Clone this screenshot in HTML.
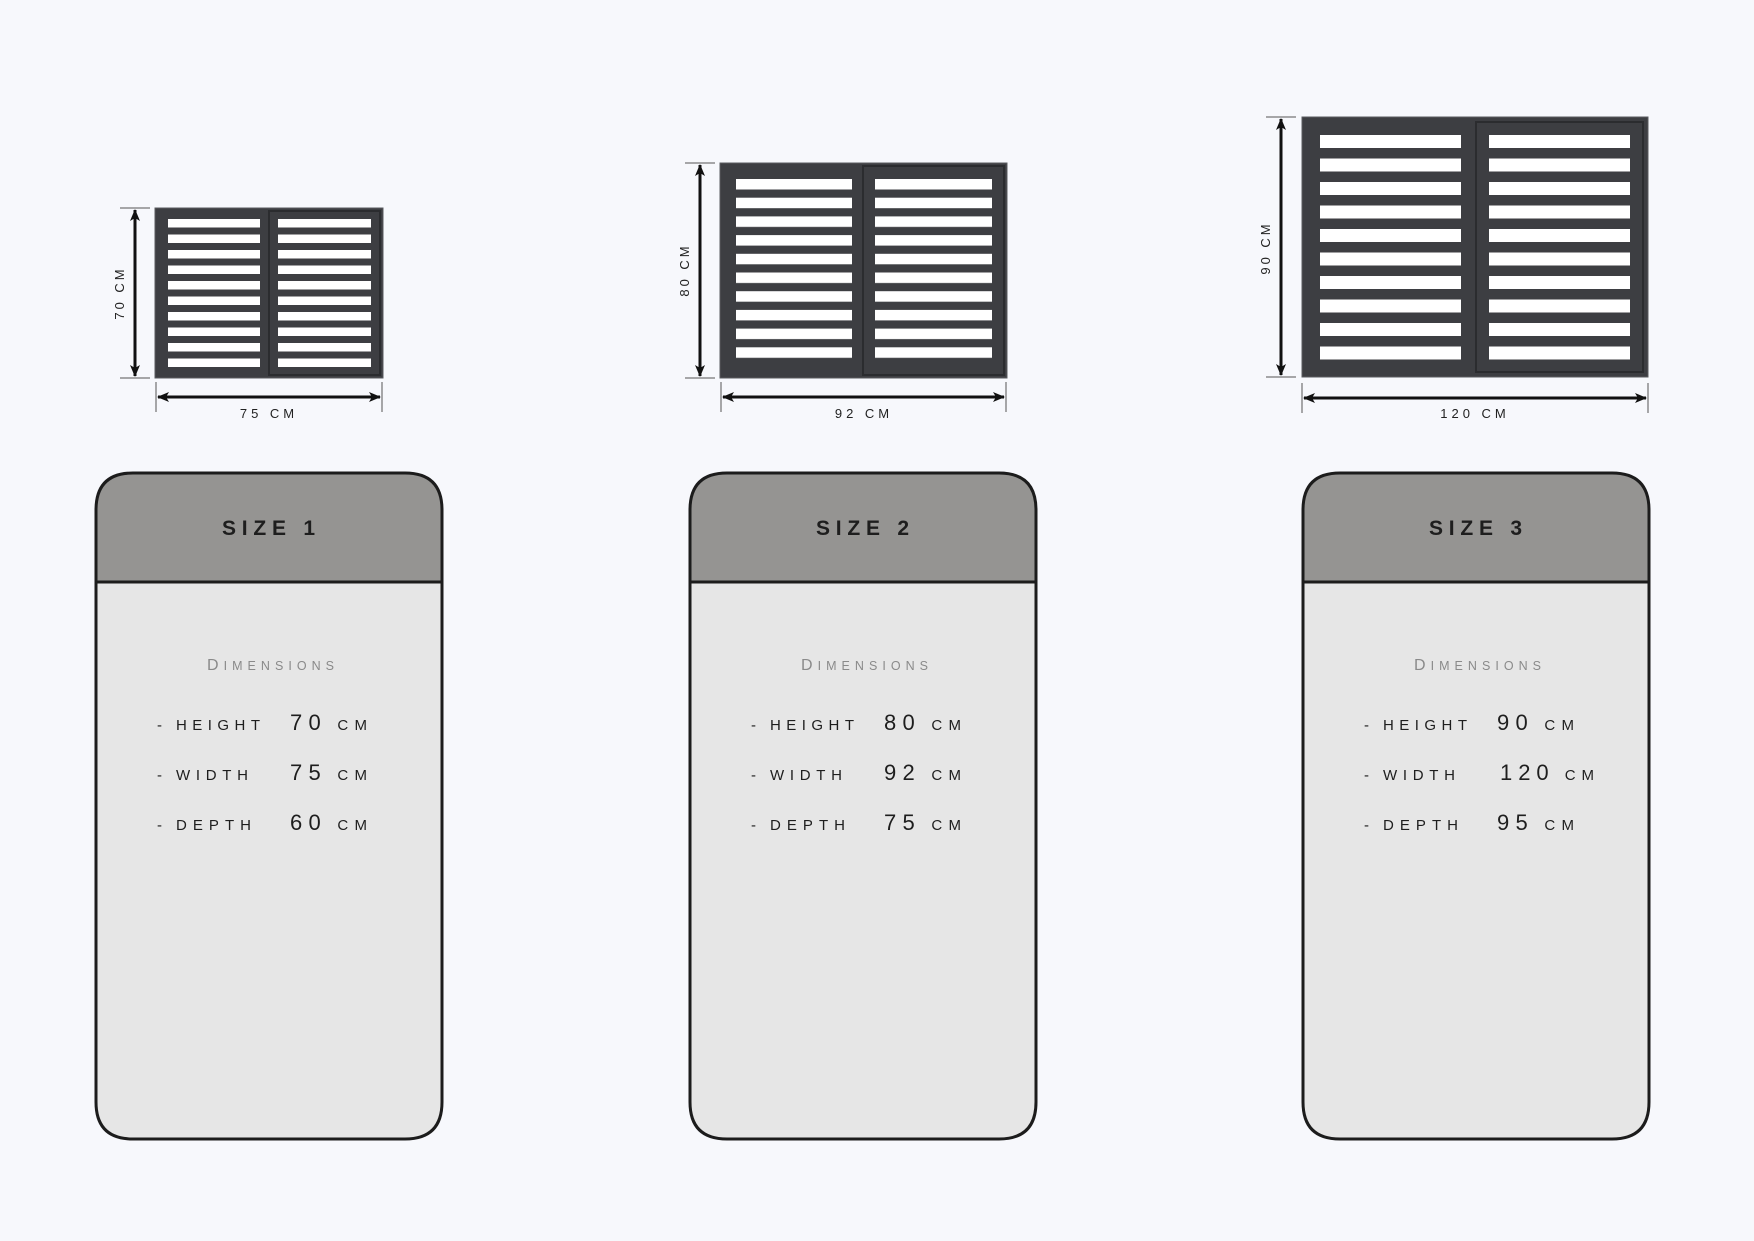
<!DOCTYPE html>
<html><head><meta charset="utf-8"><style>
html,body{margin:0;padding:0;background:#f7f8fc;}
svg{display:block;}
text{font-family:"Liberation Sans",sans-serif;}
</style></head><body>
<svg width="1754" height="1241" viewBox="0 0 1754 1241" xmlns="http://www.w3.org/2000/svg">
<defs>
<marker id="ah" viewBox="0 0 12 10" refX="11" refY="5" markerWidth="12" markerHeight="10" markerUnits="userSpaceOnUse" orient="auto-start-reverse">
<path d="M0,0 L12,5 L0,10 L3,5 Z" fill="#111"/></marker>
<pattern id="p1" patternUnits="userSpaceOnUse" x="0" y="219" width="10" height="15.5"><rect x="0" y="0" width="10" height="8.5" fill="#fff"/></pattern>
<pattern id="p2" patternUnits="userSpaceOnUse" x="0" y="179" width="10" height="18.7"><rect x="0" y="0" width="10" height="10.5" fill="#fff"/></pattern>
<pattern id="p3" patternUnits="userSpaceOnUse" x="0" y="135" width="10" height="23.5"><rect x="0" y="0" width="10" height="13" fill="#fff"/></pattern>
</defs>
<rect width="1754" height="1241" fill="#f7f8fc"/>

<rect x="155" y="208" width="228" height="170" fill="#3d3e42" stroke="#5a5b5f" stroke-width="1"/>
<rect x="269" y="211" width="111" height="164" fill="none" stroke="#2b2c2f" stroke-width="2"/>
<rect x="168" y="219" width="92" height="148" fill="url(#p1)"/>
<rect x="278" y="219" width="93" height="148" fill="url(#p1)"/>
<line x1="120" y1="208" x2="150" y2="208" stroke="#555" stroke-width="1"/>
<line x1="120" y1="378" x2="150" y2="378" stroke="#555" stroke-width="1"/>
<line x1="135" y1="210" x2="135" y2="376" stroke="#111" stroke-width="3" marker-start="url(#ah)" marker-end="url(#ah)"/>
<text x="124" y="293" transform="rotate(-90 124 293)" text-anchor="middle" font-size="13" letter-spacing="3" fill="#222">70 CM</text>
<line x1="156" y1="382" x2="156" y2="412" stroke="#555" stroke-width="1"/>
<line x1="382" y1="382" x2="382" y2="412" stroke="#555" stroke-width="1"/>
<line x1="158" y1="397" x2="380" y2="397" stroke="#111" stroke-width="3" marker-start="url(#ah)" marker-end="url(#ah)"/>
<text x="269" y="418" text-anchor="middle" font-size="13" letter-spacing="4" fill="#222">75 CM</text>

<rect x="720" y="163" width="287" height="215" fill="#3d3e42" stroke="#5a5b5f" stroke-width="1"/>
<rect x="863" y="166" width="141" height="209" fill="none" stroke="#2b2c2f" stroke-width="2"/>
<rect x="736" y="179" width="116" height="180" fill="url(#p2)"/>
<rect x="875" y="179" width="117" height="180" fill="url(#p2)"/>
<line x1="685" y1="163" x2="715" y2="163" stroke="#555" stroke-width="1"/>
<line x1="685" y1="378" x2="715" y2="378" stroke="#555" stroke-width="1"/>
<line x1="700" y1="165" x2="700" y2="376" stroke="#111" stroke-width="3" marker-start="url(#ah)" marker-end="url(#ah)"/>
<text x="689" y="270" transform="rotate(-90 689 270)" text-anchor="middle" font-size="13" letter-spacing="3" fill="#222">80 CM</text>
<line x1="721" y1="382" x2="721" y2="412" stroke="#555" stroke-width="1"/>
<line x1="1006" y1="382" x2="1006" y2="412" stroke="#555" stroke-width="1"/>
<line x1="723" y1="397" x2="1004" y2="397" stroke="#111" stroke-width="3" marker-start="url(#ah)" marker-end="url(#ah)"/>
<text x="864" y="418" text-anchor="middle" font-size="13" letter-spacing="4" fill="#222">92 CM</text>

<rect x="1302" y="117" width="346" height="260" fill="#3d3e42" stroke="#5a5b5f" stroke-width="1"/>
<rect x="1476" y="122" width="167" height="250" fill="none" stroke="#2b2c2f" stroke-width="2"/>
<rect x="1320" y="135" width="141" height="225" fill="url(#p3)"/>
<rect x="1489" y="135" width="141" height="225" fill="url(#p3)"/>
<line x1="1266" y1="117" x2="1296" y2="117" stroke="#555" stroke-width="1"/>
<line x1="1266" y1="377" x2="1296" y2="377" stroke="#555" stroke-width="1"/>
<line x1="1281" y1="119" x2="1281" y2="375" stroke="#111" stroke-width="3" marker-start="url(#ah)" marker-end="url(#ah)"/>
<text x="1270" y="248" transform="rotate(-90 1270 248)" text-anchor="middle" font-size="13" letter-spacing="3" fill="#222">90 CM</text>
<line x1="1302" y1="383" x2="1302" y2="413" stroke="#555" stroke-width="1"/>
<line x1="1648" y1="383" x2="1648" y2="413" stroke="#555" stroke-width="1"/>
<line x1="1304" y1="398" x2="1646" y2="398" stroke="#111" stroke-width="3" marker-start="url(#ah)" marker-end="url(#ah)"/>
<text x="1475" y="418" text-anchor="middle" font-size="13" letter-spacing="4" fill="#222">120 CM</text>

<g>
<path d="M96,582 L96,510 Q96,473 133,473 L405,473 Q442,473 442,510 L442,582 Z" fill="#959492"/>
<path d="M96,582 L442,582 L442,1102 Q442,1139 405,1139 L133,1139 Q96,1139 96,1102 Z" fill="#e6e6e6"/>
<path d="M133,473 L405,473 Q442,473 442,510 L442,1102 Q442,1139 405,1139 L133,1139 Q96,1139 96,1102 L96,510 Q96,473 133,473 Z" fill="none" stroke="#1c1c1c" stroke-width="3"/>
<line x1="96" y1="582" x2="442" y2="582" stroke="#1c1c1c" stroke-width="3"/>
<text x="222" y="535" font-size="21" font-weight="bold" textLength="93" lengthAdjust="spacing" fill="#1e1e1e">SIZE 1</text>
<text x="207" y="670" font-size="16" textLength="127" lengthAdjust="spacing" fill="#8a8a8a">D<tspan font-size="12.5">IMENSIONS</tspan></text>
<g font-size="15" fill="#1e1e1e">
<text x="157" y="730">-</text><text x="157" y="780">-</text><text x="157" y="830">-</text>
<text x="176" y="730" textLength="84" lengthAdjust="spacing">HEIGHT</text>
<text x="176" y="780" textLength="72" lengthAdjust="spacing">WIDTH</text>
<text x="176" y="830" textLength="75" lengthAdjust="spacing">DEPTH</text>
<text x="290" y="730" textLength="77" lengthAdjust="spacing"><tspan font-size="22">70</tspan> CM</text>
<text x="290" y="780" textLength="77" lengthAdjust="spacing"><tspan font-size="22">75</tspan> CM</text>
<text x="290" y="830" textLength="77" lengthAdjust="spacing"><tspan font-size="22">60</tspan> CM</text>
</g>
</g>
<g transform="translate(594 0)">
<path d="M96,582 L96,510 Q96,473 133,473 L405,473 Q442,473 442,510 L442,582 Z" fill="#959492"/>
<path d="M96,582 L442,582 L442,1102 Q442,1139 405,1139 L133,1139 Q96,1139 96,1102 Z" fill="#e6e6e6"/>
<path d="M133,473 L405,473 Q442,473 442,510 L442,1102 Q442,1139 405,1139 L133,1139 Q96,1139 96,1102 L96,510 Q96,473 133,473 Z" fill="none" stroke="#1c1c1c" stroke-width="3"/>
<line x1="96" y1="582" x2="442" y2="582" stroke="#1c1c1c" stroke-width="3"/>
<text x="222" y="535" font-size="21" font-weight="bold" textLength="93" lengthAdjust="spacing" fill="#1e1e1e">SIZE 2</text>
<text x="207" y="670" font-size="16" textLength="127" lengthAdjust="spacing" fill="#8a8a8a">D<tspan font-size="12.5">IMENSIONS</tspan></text>
<g font-size="15" fill="#1e1e1e">
<text x="157" y="730">-</text><text x="157" y="780">-</text><text x="157" y="830">-</text>
<text x="176" y="730" textLength="84" lengthAdjust="spacing">HEIGHT</text>
<text x="176" y="780" textLength="72" lengthAdjust="spacing">WIDTH</text>
<text x="176" y="830" textLength="75" lengthAdjust="spacing">DEPTH</text>
<text x="290" y="730" textLength="77" lengthAdjust="spacing"><tspan font-size="22">80</tspan> CM</text>
<text x="290" y="780" textLength="77" lengthAdjust="spacing"><tspan font-size="22">92</tspan> CM</text>
<text x="290" y="830" textLength="77" lengthAdjust="spacing"><tspan font-size="22">75</tspan> CM</text>
</g>
</g>
<g transform="translate(1207 0)">
<path d="M96,582 L96,510 Q96,473 133,473 L405,473 Q442,473 442,510 L442,582 Z" fill="#959492"/>
<path d="M96,582 L442,582 L442,1102 Q442,1139 405,1139 L133,1139 Q96,1139 96,1102 Z" fill="#e6e6e6"/>
<path d="M133,473 L405,473 Q442,473 442,510 L442,1102 Q442,1139 405,1139 L133,1139 Q96,1139 96,1102 L96,510 Q96,473 133,473 Z" fill="none" stroke="#1c1c1c" stroke-width="3"/>
<line x1="96" y1="582" x2="442" y2="582" stroke="#1c1c1c" stroke-width="3"/>
<text x="222" y="535" font-size="21" font-weight="bold" textLength="93" lengthAdjust="spacing" fill="#1e1e1e">SIZE 3</text>
<text x="207" y="670" font-size="16" textLength="127" lengthAdjust="spacing" fill="#8a8a8a">D<tspan font-size="12.5">IMENSIONS</tspan></text>
<g font-size="15" fill="#1e1e1e">
<text x="157" y="730">-</text><text x="157" y="780">-</text><text x="157" y="830">-</text>
<text x="176" y="730" textLength="84" lengthAdjust="spacing">HEIGHT</text>
<text x="176" y="780" textLength="72" lengthAdjust="spacing">WIDTH</text>
<text x="176" y="830" textLength="75" lengthAdjust="spacing">DEPTH</text>
<text x="290" y="730" textLength="77" lengthAdjust="spacing"><tspan font-size="22">90</tspan> CM</text>
<text x="293" y="780" textLength="94" lengthAdjust="spacing"><tspan font-size="22">120</tspan> CM</text>
<text x="290" y="830" textLength="77" lengthAdjust="spacing"><tspan font-size="22">95</tspan> CM</text>
</g>
</g>
</svg>
</body></html>
